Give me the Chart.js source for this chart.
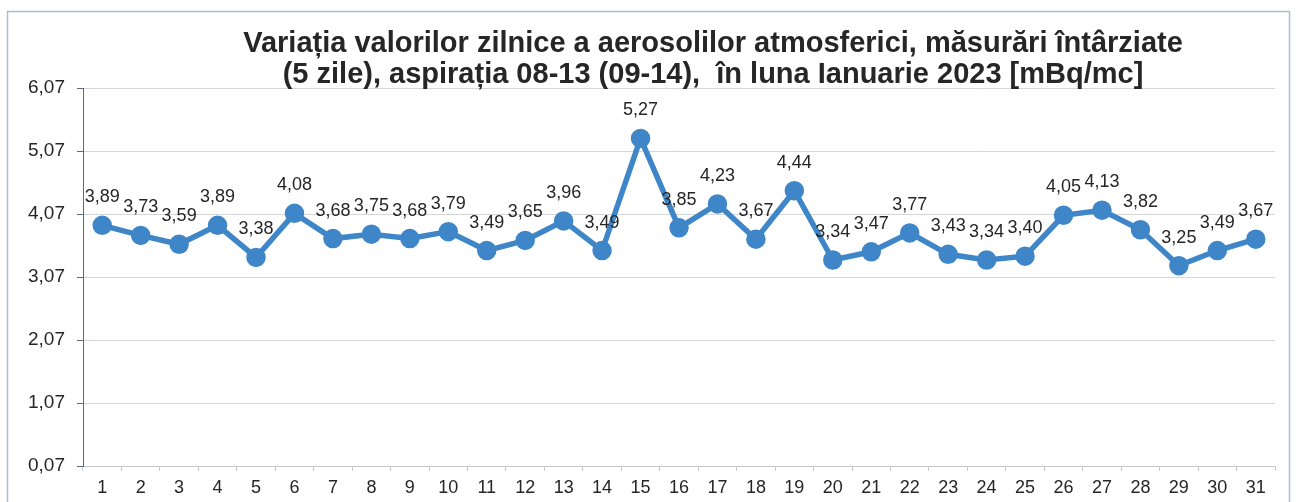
<!DOCTYPE html>
<html>
<head>
<meta charset="utf-8">
<script src="https://cdn.jsdelivr.net/npm/chart.js@4/dist/chart.umd.min.js"></script>
<style>
html,body{margin:0;padding:0;background:#fff;}
#wrap{position:relative;width:1298px;height:502px;}
canvas{display:block;}
</style>
</head>
<body>
<div id="wrap"><canvas id="c" width="1298" height="502"></canvas></div>
<script>
const days = ['1','2','3','4','5','6','7','8','9','10','11','12','13','14','15','16','17','18','19','20','21','22','23','24','25','26','27','28','29','30','31'];
const values = [3.89,3.73,3.59,3.89,3.38,4.08,3.68,3.75,3.68,3.79,3.49,3.65,3.96,3.49,5.27,3.85,4.23,3.67,4.44,3.34,3.47,3.77,3.43,3.34,3.40,4.05,4.13,3.82,3.25,3.49,3.67];
const yTickValues = [0.07,1.07,2.07,3.07,4.07,5.07,6.07];
const titleLines = ['Variația valorilor zilnice a aerosolilor atmosferici, măsurări întârziate','(5 zile), aspirația 08-13 (09-14),  în luna Ianuarie 2023 [mBq/mc]'];

const fmt = v => Number(v).toFixed(2).replace('.', ',');
const FONT = '"Liberation Sans", Arial, sans-serif';

const framePlugin = {
  id: 'frame',
  beforeDraw(chart) {
    const ctx = chart.ctx;
    ctx.save();
    ctx.fillStyle = '#ffffff';
    ctx.fillRect(0, 0, chart.width, chart.height);
    ctx.strokeStyle = '#a9bfd8';
    ctx.lineWidth = 1.5;
    ctx.strokeRect(7.5, 11.5, 1282, 500);
    ctx.restore();
  }
};

const titlePlugin = {
  id: 'customTitle',
  afterDraw(chart) {
    const ctx = chart.ctx;
    ctx.save();
    ctx.fillStyle = '#262626';
    ctx.font = 'bold 29px ' + FONT;
    ctx.textAlign = 'center';
    ctx.textBaseline = 'alphabetic';
    ctx.fillText(titleLines[0], 713, 52);
    ctx.fillText(titleLines[1], 713, 83);
    ctx.restore();
  }
};

const labelPlugin = {
  id: 'pointLabels',
  afterDatasetsDraw(chart) {
    const ctx = chart.ctx;
    const meta = chart.getDatasetMeta(0);
    ctx.save();
    ctx.fillStyle = '#262626';
    ctx.font = '18px ' + FONT;
    ctx.textAlign = 'center';
    ctx.textBaseline = 'middle';
    meta.data.forEach((pt, i) => {
      ctx.fillText(fmt(chart.data.datasets[0].data[i]), pt.x, pt.y - 28);
    });
    ctx.restore();
  }
};

new Chart(document.getElementById('c'), {
  type: 'line',
  data: {
    labels: days,
    datasets: [{
      data: values,
      borderColor: '#3f86c8',
      backgroundColor: '#3f86c8',
      borderWidth: 5.5,
      pointRadius: 7,
      pointHoverRadius: 7,
      pointBackgroundColor: '#3f86c8',
      pointBorderColor: '#3f86c8',
      tension: 0
    }]
  },
  options: {
    responsive: false,
    animation: false,
    devicePixelRatio: 1,
    layout: { padding: { top: 88, right: 23, bottom: 0, left: 0 } },
    plugins: { legend: { display: false }, tooltip: { enabled: false }, title: { display: false } },
    scales: {
      x: {
        type: 'category',
        offset: true,
        grid: { display: true, drawOnChartArea: false, drawTicks: true, offset: true, tickLength: 5, color: '#c8c8c8' },
        border: { color: '#c8c8c8', width: 1 },
        ticks: { color: '#262626', font: { family: FONT, size: 18 }, padding: 6, maxRotation: 0, autoSkip: false },
        afterFit(s) { s.height = 36; }
      },
      y: {
        min: 0.07,
        max: 6.07,
        afterBuildTicks(s) { s.ticks = yTickValues.map(v => ({ value: v })); },
        grid: { color: '#d6d6d6', tickColor: '#5a6a7a', tickLength: 6, lineWidth: 1 },
        border: { color: '#5a6a7a', width: 1 },
        ticks: { color: '#262626', font: { family: FONT, size: 19 }, padding: 12, callback: v => fmt(v) },
        afterFit(s) { s.width = 83; }
      }
    }
  },
  plugins: [framePlugin, labelPlugin, titlePlugin]
});
</script>
</body>
</html>
